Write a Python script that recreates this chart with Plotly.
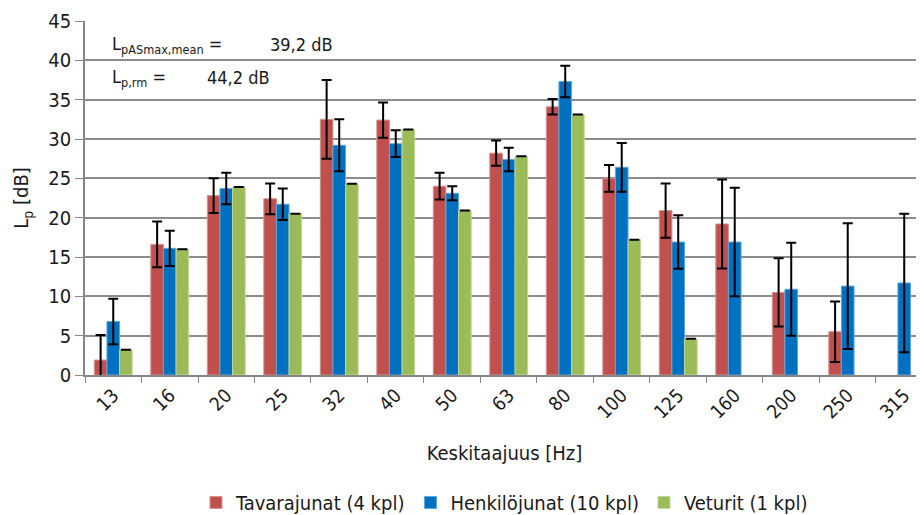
import plotly.graph_objects as go

# data
freqs = ["13", "16", "20", "25", "32", "40", "50", "63", "80", "100", "125", "160", "200", "250", "315"]

tavara = [1.9, 16.6, 22.8, 22.4, 32.5, 32.4, 24.0, 28.2, 34.1, 25.0, 20.9, 19.2, 10.5, 5.5, None]
tavara_err = [3.2, 2.9, 2.2, 1.95, 5.0, 2.25, 1.7, 1.6, 1.0, 1.7, 3.45, 5.65, 4.35, 3.85, None]

henkilo = [6.8, 16.1, 23.7, 21.7, 29.2, 29.4, 23.1, 27.4, 37.3, 26.4, 16.9, 16.9, 10.9, 11.3, 11.7]
henkilo_err = [2.9, 2.25, 2.0, 2.0, 3.3, 1.7, 0.9, 1.5, 2.0, 3.1, 3.4, 6.9, 5.9, 8.0, 8.8]

veturi = [3.2, 16.0, 23.9, 20.5, 24.3, 31.2, 20.9, 27.8, 33.1, 17.2, 4.6, None, None, None, None]
veturi_err = [0, 0, 0, 0, 0, 0, 0, 0, 0, 0, 0, None, None, None, None]

series = [
    ("Tavarajunat (4 kpl)", tavara, tavara_err, "#C0504D", "#D6908E"),
    ("Henkilöjunat (10 kpl)", henkilo, henkilo_err, "#0070C0", "#5FA6DA"),
    ("Veturit (1 kpl)", veturi, veturi_err, "#9BBB59", "#C3D69B"),
]

FONT = "DejaVu Sans Condensed, Liberation Sans Narrow, Arial Narrow, sans-serif"

fig = go.Figure()
for name, vals, errs, color, edge in series:
    fig.add_trace(go.Bar(
        name=name,
        x=freqs,
        y=vals,
        marker=dict(color=color, line=dict(color=edge, width=1)),
        error_y=dict(type="data", array=errs, visible=True,
                     color="black", thickness=2, width=5),
    ))

# text box in the upper left corner
notes = [
    (0.030, 42.0, "L<sub>pASmax,mean</sub> ="),
    (0.218, 42.0, "39,2 dB"),
    (0.030, 37.8, "L<sub>p,rm</sub> ="),
    (0.143, 37.8, "44,2 dB"),
]
for nx, ny, txt in notes:
    fig.add_annotation(x=nx, xref="paper", y=ny, yref="y", xanchor="left",
                       text=txt, showarrow=False, font=dict(size=18))

# the page body adds an 8px margin, so the figure is 8px smaller
fig.update_layout(
    width=916, height=507,
    margin=dict(l=77, r=0, t=13, b=140, autoexpand=False),
    paper_bgcolor="white", plot_bgcolor="white",
    font=dict(family=FONT, size=19, color="#1a1a1a"),
    barmode="group", bargap=0.33, bargroupgap=0,
    showlegend=True,
    legend=dict(orientation="h", x=0.5, xanchor="center",
                y=-0.36, yanchor="middle",
                font=dict(size=20), itemwidth=30),
)
fig.update_xaxes(
    type="category", range=[-0.5, 14.35],
    showline=True, linecolor="#868686", linewidth=1.5,
    ticks="outside", tickson="boundaries", ticklen=6, tickcolor="#868686",
    tickangle=-45, tickfont=dict(size=19),
    title=dict(text="Keskitaajuus [Hz]", font=dict(size=20), standoff=24),
)
fig.update_yaxes(
    range=[0, 45], dtick=5,
    showline=True, linecolor="#868686", linewidth=1.5,
    showgrid=True, gridcolor="#8c8c8c", gridwidth=1.5,
    ticks="outside", ticklen=8, tickcolor="#868686",
    tickfont=dict(size=20),
    title=dict(text="L<sub>p</sub> [dB]", font=dict(size=20), standoff=14),
    zeroline=False,
)

fig.write_html("out.html")
